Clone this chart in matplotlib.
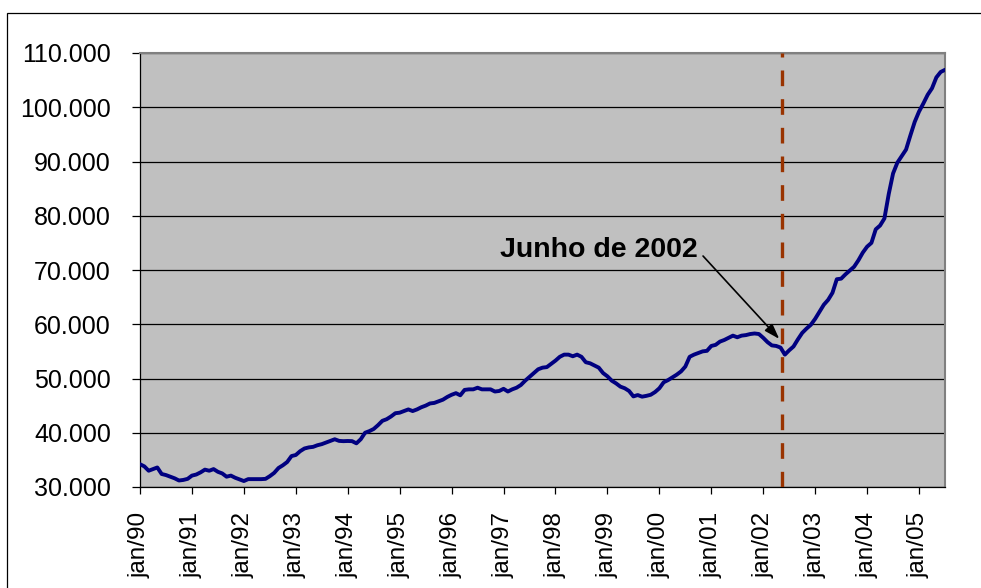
import matplotlib
matplotlib.use("Agg")
import matplotlib.pyplot as plt
from matplotlib.patches import Rectangle
from matplotlib.ticker import FuncFormatter

plt.rcParams["font.family"] = ["Liberation Sans", "DejaVu Sans"]

# monthly values, jan/90 .. jul/05
values = [
    34200, 33800, 33000, 33300, 33600, 32400, 32200, 31900, 31600, 31200, 31300, 31500,  # 1990
    32100, 32300, 32700, 33200, 33000, 33300, 32800, 32500, 31900, 32100, 31700, 31400,  # 1991
    31100, 31450, 31450, 31450, 31450, 31500, 32000, 32600, 33500, 34000, 34600, 35700,  # 1992
    35900, 36600, 37100, 37300, 37400, 37700, 37900, 38200, 38500, 38800, 38500, 38450,  # 1993
    38480, 38450, 38050, 38800, 40000, 40300, 40700, 41400, 42200, 42500, 43000, 43600,  # 1994
    43700, 44000, 44300, 44000, 44300, 44700, 45000, 45400, 45500, 45800, 46100, 46600,  # 1995
    47000, 47300, 46900, 47900, 48000, 48000, 48300, 48000, 48000, 48000, 47600, 47700,  # 1996
    48100, 47600, 48000, 48300, 48800, 49600, 50300, 51000, 51700, 52000, 52100, 52700,  # 1997
    53300, 54000, 54400, 54400, 54100, 54400, 54000, 53000, 52800, 52400, 52000, 51000,  # 1998
    50400, 49600, 49100, 48500, 48200, 47700, 46700, 46950, 46650, 46800, 47000, 47500,  # 1999
    48200, 49300, 49700, 50200, 50700, 51300, 52200, 54000, 54400, 54700, 55000, 55100,  # 2000
    56000, 56200, 56800, 57100, 57500, 57900, 57600, 57900, 58000, 58200, 58300, 58200,  # 2001
    57500, 56700, 56100, 56000, 55700, 54400, 55200, 55900, 57200, 58400, 59200, 59900,  # 2002
    61000, 62300, 63600, 64500, 65800, 68300, 68400, 69200, 69900, 70600, 71800, 73200,  # 2003
    74300, 75000, 77500, 78200, 79500, 84000, 87800, 89800, 91000, 92200, 94800, 97300,  # 2004
    99200, 100700, 102300, 103500, 105500, 106500, 106900,                               # 2005
]
tick_labels = ["jan/90", "jan/91", "jan/92", "jan/93", "jan/94", "jan/95", "jan/96", "jan/97",
               "jan/98", "jan/99", "jan/00", "jan/01", "jan/02", "jan/03", "jan/04", "jan/05"]
tick_months = [12 * k for k in range(len(tick_labels))]
marker_month = 148.4          # "Junho de 2002"
note_text = "Junho de 2002"
note_xy = (147.7, 57300)
note_text_xy = (128.8, 73700)

fig = plt.figure(figsize=(9.81, 5.88), dpi=100)
fig.patches.append(Rectangle((7 / 981, -0.5), 2.0, 1.5 - 13 / 588, transform=fig.transFigure,
                             fill=False, edgecolor="black", linewidth=0.9))
ax = fig.add_axes([140 / 981, 1 - 487 / 588, (945 - 140) / 981, (487 - 53) / 588])
ax.set_facecolor("#C0C0C0")

months = list(range(len(values)))
ax.plot(months, values, color="#000080", linewidth=2.8, zorder=3, solid_capstyle="round",
        solid_joinstyle="round")
ax.axvline(marker_month, color="#993300", linewidth=2.4, dashes=(4.7, 3.9), zorder=4)

ax.set_xlim(0, len(values) - 1)
ax.set_ylim(30000, 110000)
ax.set_yticks(range(30000, 110001, 10000))
ax.yaxis.set_major_formatter(FuncFormatter(lambda v, _: f"{v:,.0f}".replace(",", ".")))
ax.set_xticks(tick_months)
ax.set_xticklabels(tick_labels, rotation=90)
ax.grid(axis="y", color="black", linewidth=0.9)
ax.set_axisbelow(True)
ax.tick_params(axis="y", direction="out", length=6, width=0.9, pad=15, labelsize=18)
ax.tick_params(axis="x", direction="out", length=5, width=0.9, pad=13, labelsize=17.5)
for side in ("top", "right"):
    ax.spines[side].set_color("#808080")
    ax.spines[side].set_linewidth(1.5)
for side in ("left", "bottom"):
    ax.spines[side].set_color("black")
    ax.spines[side].set_linewidth(0.9)

ax.annotate(note_text, xy=note_xy, xytext=note_text_xy, ha="right", va="center",
            fontsize=20.5, fontweight="bold", zorder=5,
            arrowprops=dict(arrowstyle="-|>,head_length=0.45,head_width=0.15", color="black",
                            linewidth=1.2, relpos=(1.0, 0.5), shrinkA=3, shrinkB=0))

fig.savefig("out.png", dpi=100)
